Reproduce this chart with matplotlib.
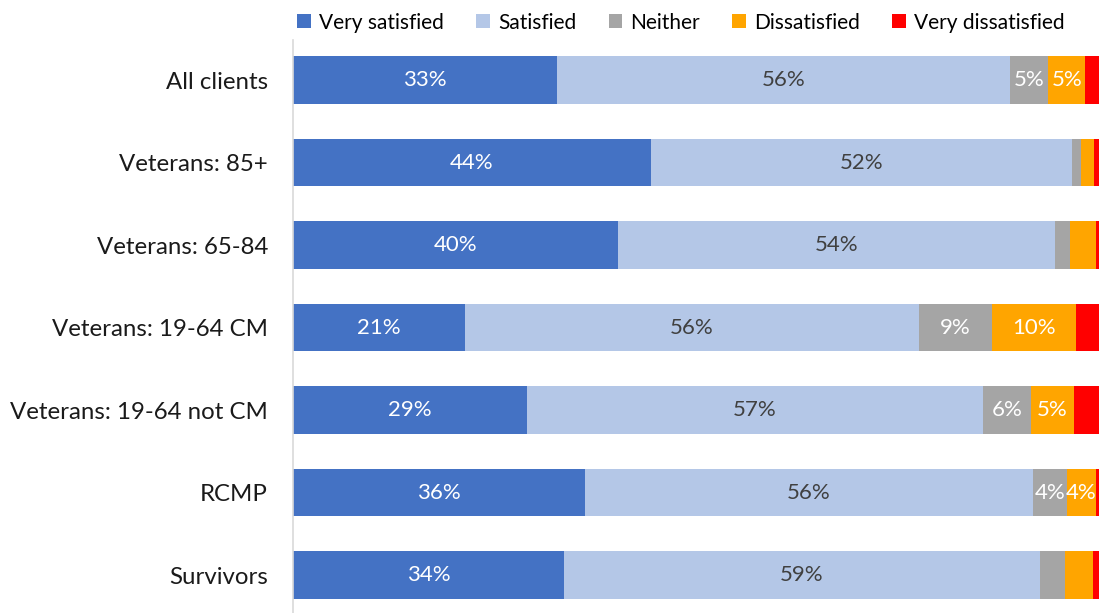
import matplotlib
matplotlib.use("Agg")
import matplotlib.pyplot as plt
import numpy as np

# Client satisfaction by group (percent of respondents)
categories = ["All clients", "Veterans: 85+", "Veterans: 65-84", "Veterans: 19-64 CM",
              "Veterans: 19-64 not CM", "RCMP", "Survivors"]
series_names = ["Very satisfied", "Satisfied", "Neither", "Dissatisfied", "Very dissatisfied"]
very_satisfied = [32.8, 44.4, 40.3, 21.3, 29.0, 36.2, 33.6]
satisfied = [56.2, 52.2, 54.2, 56.4, 56.6, 55.6, 59.1]
neither = [4.7, 1.2, 1.9, 9.0, 6.0, 4.2, 3.1]
dissatisfied = [4.6, 1.6, 3.2, 10.4, 5.3, 3.6, 3.4]
very_dissatisfied = [1.7, 0.6, 0.4, 2.9, 3.1, 0.4, 0.8]

colors = ["#4472C4", "#B4C7E7", "#A5A5A5", "#FFA500", "#FF0000"]
label_colors = ["white", "#404040", "white", "white", "white"]

plt.rcParams["font.family"] = ["Lato", "DejaVu Sans"]

fig = plt.figure(figsize=(10.99, 6.13), dpi=100)
ax = fig.add_axes([293 / 1099, 0, 1 - 293 / 1099, 573 / 613])

series = [very_satisfied, satisfied, neither, dissatisfied, very_dissatisfied]
y = np.arange(len(categories))
left = np.zeros(len(categories))
for name, vals, col, tcol in zip(series_names, series, colors, label_colors):
    vals = np.array(vals)
    ax.barh(y, vals, left=left, height=0.58, color=col, label=name)
    for i, v in enumerate(vals):
        if name != "Very dissatisfied" and round(v) >= 4:
            ax.text(left[i] + v / 2, y[i], f"{v:.0f}%", ha="center", va="center",
                    color=tcol, fontsize=16)
    left += vals

ax.set_xlim(0, 100)
ax.set_ylim(6.46, -0.485)
ax.set_yticks(y)
ax.set_yticklabels(categories, fontsize=17.3, color="#1a1a1a")
ax.tick_params(axis="y", length=0, pad=18)
ax.set_xticks([])
for s in ["top", "right", "bottom"]:
    ax.spines[s].set_visible(False)
ax.spines["left"].set_color("#D9D9D9")
ax.spines["left"].set_linewidth(1.2)

fig.legend(loc="upper center", bbox_to_anchor=(681 / 1099, 1.01), ncol=5,
           frameon=False, fontsize=15, handlelength=0.65, handleheight=0.65,
           handletextpad=0.4, columnspacing=1.55)

fig.savefig("out.png", dpi=100)
